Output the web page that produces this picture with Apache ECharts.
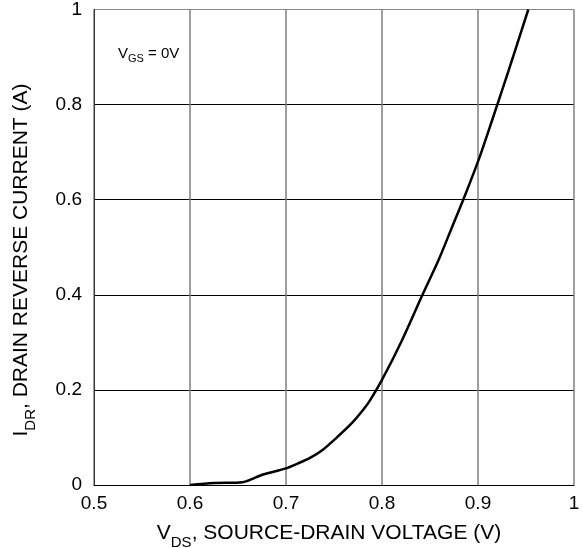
<!DOCTYPE html>
<html>
<head>
<meta charset="utf-8">
<script src="https://cdn.jsdelivr.net/npm/echarts@6/dist/echarts.min.js"></script>
<style>html,body{margin:0;padding:0;background:#fff;}#c{width:583px;height:548px;}</style>
</head>
<body>
<div id="c"></div>
<script>
var vds = [0.600, 0.625, 0.655, 0.676, 0.700, 0.712, 0.725, 0.737, 0.753, 0.769, 0.780, 0.7875, 0.7997, 0.8205, 0.8424, 0.8587, 0.8725, 0.8866, 0.9014, 0.9160, 0.9316, 0.9524];
var idr = [0.000, 0.004, 0.006, 0.022, 0.035, 0.045, 0.057, 0.072, 0.100, 0.131, 0.157, 0.178, 0.220, 0.303, 0.401, 0.472, 0.540, 0.610, 0.688, 0.775, 0.870, 1.000];
var xTicks = ['0.5', '0.6', '0.7', '0.8', '0.9', '1'];
var yTicks = ['0', '0.2', '0.4', '0.6', '0.8', '1'];

var font = 'Liberation Sans, Arial, sans-serif';
var chart = echarts.init(document.getElementById('c'), null, {renderer: 'canvas'});
var data = vds.map(function (v, i) { return [v, idr[i]]; });
var subRich = {
  n: {fontSize: 21, fontFamily: font, color: '#000', lineHeight: 42, verticalAlign: 'middle'},
  s: {fontSize: 15, fontFamily: font, color: '#000', lineHeight: 42, verticalAlign: 'bottom', padding: [0, 0, 4, 0]}
};
var smallRich = {
  n: {fontSize: 15, fontFamily: font, color: '#000', lineHeight: 26, verticalAlign: 'middle'},
  s: {fontSize: 11, fontFamily: font, color: '#000', lineHeight: 26, verticalAlign: 'bottom', padding: [0, 0, 3, 0]}
};
chart.setOption({
  animation: false,
  grid: {left: 94, right: 9, top: 6, bottom: 63, show: false},
  xAxis: {
    type: 'value', min: 0.5, max: 1, interval: 0.1,
    axisLine: {show: true, lineStyle: {color: '#000', width: 1}},
    axisTick: {show: false},
    axisLabel: {
      fontSize: 19, color: '#000', fontFamily: font, margin: 9,
      formatter: function (v) { return xTicks[Math.round((v - 0.5) * 10)]; }
    },
    splitLine: {show: true, lineStyle: {color: '#808080', width: 1.5}}
  },
  yAxis: {
    type: 'value', min: 0, max: 1, interval: 0.2,
    axisLine: {show: true, lineStyle: {color: '#333', width: 1}},
    axisTick: {show: false},
    axisLabel: {
      fontSize: 19, color: '#000', fontFamily: font, margin: 12,
      formatter: function (v) { return yTicks[Math.round(v * 5)]; }
    },
    splitLine: {show: true, lineStyle: {color: ['#000', '#000', '#000', '#000', '#000', '#888'], width: 1}}
  },
  series: [{
    type: 'line', data: data, smooth: 0.3, showSymbol: false,
    lineStyle: {color: '#000', width: 2.5}
  }],
  graphic: [
    {
      type: 'text', x: 329, y: 533,
      style: {
        text: '{n|V}{s|DS}{n|, SOURCE-DRAIN VOLTAGE (V)}',
        rich: subRich, align: 'center', verticalAlign: 'middle'
      }
    },
    {
      type: 'text', x: 21, y: 260, rotation: Math.PI / 2,
      style: {
        text: '{n|I}{s|DR}{n|, DRAIN REVERSE CURRENT (A)}',
        rich: subRich, align: 'center', verticalAlign: 'middle'
      }
    },
    {
      type: 'text', x: 118, y: 54,
      style: {
        text: '{n|V}{s|GS}{n| = 0V}',
        rich: smallRich, align: 'left', verticalAlign: 'middle'
      }
    }
  ]
});
</script>
</body>
</html>
